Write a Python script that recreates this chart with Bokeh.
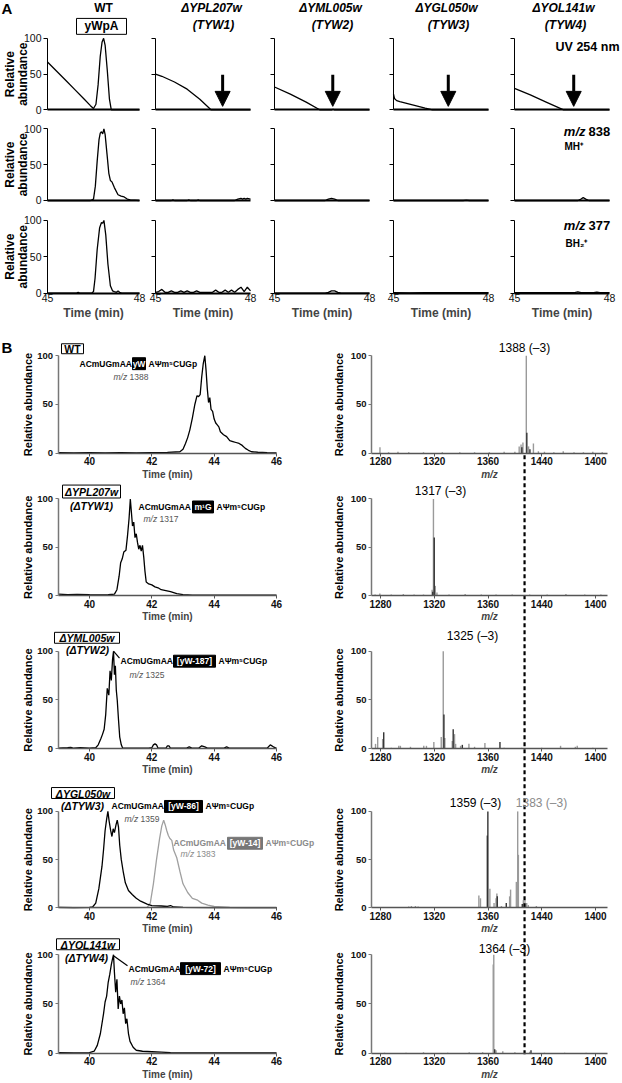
import math
from bokeh.plotting import figure
from bokeh.models import Range1d, LinearAxis, FixedTicker, Arrow, NormalHead
from bokeh.core.properties import value
from bokeh.embed import file_html
from bokeh.resources import INLINE

# ======================= DATA =======================
# ---- Panel A : elution profiles, time 45-48 min, relative abundance ----
a_titles = ["WT", "\u0394YPL207w", "\u0394YML005w", "\u0394YGL050w", "\u0394YOL141w"]
a_subtitles = ["yWpA", "(TYW1)", "(TYW2)", "(TYW3)", "(TYW4)"]
a_x_ticks = [45, 48]
a_y_ticks = [0, 50, 100]

# UV 254 nm
uv_wt_t = [45.0, 45.3, 45.6, 45.9, 46.2, 46.4, 46.5, 46.58, 46.65, 46.72, 46.78, 46.83, 46.88, 46.95, 47.02, 47.08, 47.5, 48.0]
uv_wt_y = [67, 54, 41, 28, 15, 6, 2, 8, 35, 75, 95, 100, 90, 55, 15, 0, 0, 0]
uv_tyw1_t = [45.0, 45.2, 45.6, 46.0, 46.4, 46.76, 48.0]
uv_tyw1_y = [50, 47, 39, 29, 15, 0, 0]
uv_tyw2_t = [45.0, 45.5, 46.0, 46.44, 46.8, 46.85, 46.9, 48.0]
uv_tyw2_y = [32, 22, 11, 0, 0, 1, 0, 0]
uv_tyw3_t = [45.0, 45.03, 45.1, 45.2, 45.6, 46.0, 46.23, 48.0]
uv_tyw3_y = [22, 16, 13, 11.5, 7, 2.5, 0, 0]
uv_tyw4_t = [45.0, 45.5, 46.0, 46.55, 48.0]
uv_tyw4_y = [30, 21, 11, 0, 0]
# arrows mark the expected elution position of yWpA (min)
arrow_t = [47.12, 46.84, 46.73, 46.87]

# m/z 838 (MH+)
mz838_wt_t = [45, 46.4, 46.5, 46.56, 46.62, 46.68, 46.72, 46.76, 46.8, 46.84, 46.88, 46.94, 47.0, 47.05, 47.1, 47.18, 47.3, 47.4, 47.5, 47.6, 47.7, 48]
mz838_wt_y = [0, 0, 2, 20, 55, 85, 94, 96, 93, 100, 92, 65, 38, 28, 26, 18, 8, 6, 5, 2, 1, 0]
mz838_tyw1_t = [45, 45.5, 45.55, 45.6, 46.0, 46.05, 46.1, 46.3, 46.35, 46.4, 47.5, 47.55, 47.6, 47.7, 47.75, 47.8, 47.85, 47.9, 48]
mz838_tyw1_y = [0, 0, 1, 0, 0, 1, 0, 0, 1, 0, 0, 1, 2, 3, 2, 3, 2, 3, 2]
mz838_tyw2_t = [45, 46.6, 46.7, 46.8, 46.9, 47.0, 48]
mz838_tyw2_y = [0, 0, 2, 3, 2, 0, 0]
mz838_tyw3_t = [45, 47.2, 47.3, 47.4, 48]
mz838_tyw3_y = [0, 0, 0.6, 0, 0]
mz838_tyw4_t = [45, 47.0, 47.1, 47.17, 47.25, 47.35, 48]
mz838_tyw4_y = [0, 0, 2, 4, 2, 0, 0]

# m/z 377 (BH2+)
mz377_wt_t = [45, 45.95, 46.0, 46.05, 46.45, 46.5, 46.55, 46.62, 46.7, 46.76, 46.8, 46.84, 46.9, 46.97, 47.05, 47.12, 47.18, 47.25, 47.3, 47.35, 47.42, 48]
mz377_wt_y = [0, 0, 1, 0, 0, 2, 20, 60, 90, 97, 96, 100, 80, 40, 10, 3, 2, 1, 3, 1, 0, 0]
mz377_tyw1_t = [45, 45.1, 45.2, 45.3, 45.4, 45.5, 45.6, 45.7, 45.8, 45.9, 46.0, 46.1, 46.2, 46.3, 46.4, 46.5, 46.6, 46.7, 46.8, 46.9, 47.0, 47.1, 47.2, 47.3, 47.4, 47.5, 47.6, 47.7, 47.8, 47.9, 48.0]
mz377_tyw1_y = [1, 2, 5, 1, 1, 3, 1, 1, 3, 1, 3, 1, 1, 3, 1, 1, 1, 1, 1, 4, 1, 1, 4, 1, 4, 1, 5, 8, 2, 8, 3]
mz377_tyw2_t = [45, 46.6, 46.7, 46.8, 46.9, 47.0, 47.1, 48]
mz377_tyw2_y = [0, 0, 1, 3, 3, 1, 0, 0]
mz377_tyw3_t = [45, 45.5, 46, 46.5, 47, 47.5, 48]
mz377_tyw3_y = [0.5, 0.3, 0.6, 0.4, 0.6, 0.4, 0.5]
mz377_tyw4_t = [45, 46.5, 46.9, 47.0, 47.1, 47.5, 47.6, 47.7, 48]
mz377_tyw4_y = [0.5, 0.5, 0.5, 1.5, 0.5, 0.5, 1.2, 0.5, 0.5]

# ---- Panel B : chromatograms (time 39-46 min) ----
b_strains = ["WT", "\u0394YPL207w", "\u0394YML005w", "\u0394YGL050w", "\u0394YOL141w"]
b_sub = ["", "(\u0394TYW1)", "(\u0394TYW2)", "(\u0394TYW3)", "(\u0394TYW4)"]
b_mods = ["yW", "m\u00b9G", "[yW-187]", "[yW-86]", "[yW-72]"]
b_mz = ["1388", "1317", "1325", "1359", "1364"]
b_peak_text = ["1388 (\u20133)", "1317 (\u20133)", "1325 (\u20133)", "1359 (\u20133)", "1364 (\u20133)"]
gray_mod, gray_mz, gray_peak_text = "[yW-14]", "1383", "1383 (\u20133)"
b_t_ticks = [40, 42, 44, 46]
b_y_ticks = [0, 50, 100]

chr_wt_t = [39.0, 39.5, 40.0, 40.5, 41.0, 41.5, 42.0, 42.5, 42.9, 43.0, 43.08, 43.15, 43.22, 43.3, 43.38, 43.45, 43.5, 43.55, 43.6, 43.65, 43.7, 43.74, 43.78, 43.82, 43.86, 43.9, 43.95, 44.0, 44.05, 44.1, 44.15, 44.2, 44.3, 44.4, 44.5, 44.6, 44.7, 44.8, 44.9, 45.0, 45.1, 45.2, 45.4, 45.7, 46.0]
chr_wt_y = [0.5, 0.3, 0.5, 0.3, 0.5, 0.4, 0.6, 0.8, 1.5, 4, 10, 16, 24, 36, 50, 59, 58, 60, 78, 92, 100, 85, 66, 52, 57, 45, 43, 35, 31, 29, 27, 22, 19, 17, 13, 12, 11, 10, 8, 5, 3, 1.5, 1, 0.5, 0.3]
chr_tyw1_t = [39.0, 39.3, 39.6, 40.0, 40.3, 40.6, 40.8, 40.88, 40.95, 41.0, 41.05, 41.1, 41.17, 41.22, 41.27, 41.31, 41.34, 41.38, 41.42, 41.46, 41.5, 41.54, 41.58, 41.62, 41.66, 41.7, 41.74, 41.78, 41.82, 41.9, 42.0, 42.1, 42.2, 42.3, 42.45, 42.6, 42.8, 43.0, 43.3, 44.0, 45.0, 46.0]
chr_tyw1_y = [1.5, 1, 1.2, 0.8, 0.6, 0.8, 1.5, 6, 20, 34, 38, 45, 47, 62, 80, 100, 88, 72, 76, 60, 64, 55, 48, 52, 46, 52, 40, 25, 14, 12, 11, 9, 8, 6, 5, 4, 2, 1, 0.5, 0.3, 0.3, 0.3]
chr_tyw2_t = [39.0, 39.3, 39.4, 39.5, 39.7, 40.0, 40.2, 40.28, 40.36, 40.42, 40.47, 40.52, 40.57, 40.62, 40.66, 40.7, 40.74, 40.77, 40.8, 40.83, 40.86, 40.89, 40.93, 40.97, 41.02, 41.06, 41.1, 41.5, 41.9, 42.0, 42.05, 42.1, 42.15, 42.2, 42.45, 42.5, 42.55, 42.6, 43.1, 43.2, 43.3, 43.5, 43.6, 43.7, 43.8, 44.3, 44.4, 44.5, 45.0, 45.7, 45.8, 45.9, 46.0]
chr_tyw2_y = [0.5, 1, 1.5, 0.5, 1, 0.5, 1, 4, 10, 15, 20, 35, 62, 55, 80, 70, 92, 100, 76, 85, 60, 50, 30, 12, 4, 1, 0.5, 0.5, 0.5, 1, 4, 5, 4, 0.5, 0.5, 3, 3, 0.5, 0.5, 2, 0.5, 0.5, 3, 2, 0.5, 0.5, 2, 0.5, 0.5, 0.5, 4, 2, 0.5]
chr_tyw3_t = [39, 39.5, 40, 40.1, 40.2, 40.3, 40.4, 40.45, 40.5, 40.55, 40.59, 40.63, 40.68, 40.72, 40.76, 40.8, 40.85, 40.89, 40.93, 40.97, 41.02, 41.08, 41.15, 41.25, 41.37, 41.5, 41.64, 41.85, 42.0, 42.3, 42.5, 42.6, 42.7, 43.0, 44, 45, 46]
chr_tyw3_y = [0.5, 0.3, 0.5, 1, 5, 20, 43, 60, 80, 92, 100, 90, 80, 74, 82, 78, 86, 91, 84, 65, 50, 38, 26, 18, 14, 10, 7, 4, 2.5, 2, 1.5, 2.5, 1, 0.5, 0.3, 0.3, 0.3]
chr_tyw3g_t = [39, 41.5, 41.85, 41.95, 42.05, 42.15, 42.25, 42.32, 42.38, 42.43, 42.48, 42.53, 42.58, 42.64, 42.7, 42.8, 42.9, 43.0, 43.15, 43.3, 43.47, 43.6, 43.8, 44.0, 44.5, 45, 46]
chr_tyw3g_y = [0.3, 0.3, 0.5, 5, 25, 50, 72, 85, 91, 86, 80, 75, 72, 70, 60, 52, 38, 25, 16, 10, 8, 5, 3, 1.5, 0.5, 0.3, 0.3]
chr_tyw4_t = [39, 39.5, 40, 40.15, 40.25, 40.35, 40.45, 40.5, 40.55, 40.6, 40.65, 40.7, 40.74, 40.77, 40.8, 40.84, 40.88, 40.92, 40.96, 41.0, 41.04, 41.08, 41.12, 41.16, 41.2, 41.25, 41.3, 41.4, 41.5, 41.7, 42.0, 42.3, 42.6, 43, 44, 45, 46]
chr_tyw4_y = [0.5, 0.3, 0.5, 2, 8, 20, 40, 52, 58, 72, 80, 90, 96, 100, 82, 62, 75, 45, 58, 50, 54, 40, 46, 30, 35, 20, 12, 6, 3, 2, 1.5, 1, 0.5, 0.3, 0.3, 0.3, 0.3]

# ---- Panel B : mass spectra (m/z) ----
mz_ticks = [1280, 1320, 1360, 1400, 1440]
mz_tick_text = {1400: "1440", 1440: "1400"}   # tick labels as printed in the original
dash_mz = 1387.2

ms_wt_gray_mz = [1279.6, 1286, 1293, 1301, 1312, 1326, 1339, 1350, 1361, 1372, 1380, 1383.2, 1384.6, 1386.0, 1388.5, 1390.2, 1393.8, 1397.5, 1402, 1409, 1416, 1424, 1431, 1438, 1445]
ms_wt_gray_i = [6, 1, 1.5, 1, 1, 1, 1, 1, 1, 1.5, 1.5, 7, 9, 11, 100, 7, 10, 2, 1.5, 1, 2, 1, 1, 1.5, 1]
ms_wt_dark_mz = [1385.2, 1388.9, 1391.2]
ms_wt_dark_i = [6, 21, 4]
ms_tyw1_gray_mz = [1276, 1279.5, 1288, 1297, 1305, 1312, 1318.4, 1319.4, 1320.8, 1322, 1331, 1343, 1355, 1366, 1378, 1391, 1404, 1418, 1432, 1444]
ms_tyw1_gray_i = [1, 2, 1, 1.5, 1, 1, 6, 100, 10, 3, 1, 1.5, 1, 1, 1, 1, 1, 1.5, 1, 1]
ms_tyw1_dark_mz = [1318.9, 1320.0]
ms_tyw1_dark_i = [4, 60]
ms_tyw2_gray_mz = [1276.3, 1277.9, 1281.6, 1288, 1293.6, 1294.8, 1302.3, 1312.2, 1314.2, 1319.7, 1325.2, 1326.7, 1327.9, 1333.4, 1335.1, 1335.9, 1339.6, 1345.8, 1350, 1357.7, 1372, 1385, 1400, 1414, 1425, 1426.4, 1438]
ms_tyw2_gray_i = [5, 12, 10, 1, 3, 3, 2, 3, 3, 7, 12, 100, 11, 8, 15, 5, 3, 5, 2, 6, 1, 1, 1, 3, 2, 3, 1]
ms_tyw2_dark_mz = [1282.4, 1327.2, 1334.1, 1340.9, 1368.9]
ms_tyw2_dark_i = [17, 35, 20, 4, 7]
ms_tyw3_gray_mz = [1279, 1290, 1301, 1303, 1306, 1308, 1324, 1353.2, 1354.4, 1361.4, 1364.5, 1366.0, 1366.6, 1370, 1376.1, 1376.8, 1381.1, 1382.1, 1382.6, 1386.3, 1387.5, 1388.8, 1390, 1396, 1404, 1416, 1422]
ms_tyw3_gray_i = [0.5, 0.5, 1.5, 2, 2, 1.5, 1, 13, 10, 20, 5, 10, 15, 2, 12, 19, 27, 100, 55, 8, 8, 5, 3, 2, 1, 1, 1]
ms_tyw3_dark_mz = [1359.5, 1359.9, 1366.9, 1373.6, 1385.5]
ms_tyw3_dark_i = [75, 100, 12, 5, 4]
ms_tyw4_gray_mz = [1283, 1299, 1312, 1330, 1346, 1356, 1363.9, 1364.3, 1366, 1371, 1380, 1391, 1402, 1417, 1433]
ms_tyw4_gray_i = [0.5, 0.5, 1, 0.5, 1, 1, 90, 100, 3, 2, 1, 1.5, 0.5, 0.5, 0.5]
ms_tyw4_dark_mz = [1365.0, 1392]
ms_tyw4_dark_i = [4, 3]

# ======================= LAYOUT =======================
W, H = 620, 1082
FNAME = "Liberation Sans"
FONT = value(FNAME)
GRAY = "#9a9a9a"
DARK = "#333333"

def fx(x):  # reference pixel -> canvas pixel
    return x

def fy(y):
    return y * 0.995

A_X0 = [47, 155, 274, 393, 514]   # pixel of t = 45
A_X1 = [139, 250, 369, 488, 609]  # pixel of t = 48
A_BASE = [110, 201, 294]
A_TOP = [38, 129, 221]
B_BASE = [455, 598, 752, 912, 1058]
B_TOP = [357, 501, 654, 815, 959]

p = figure(width=W, height=H, x_range=Range1d(0, W), y_range=Range1d(H, 0),
           x_axis_type=None, y_axis_type=None, toolbar_location=None,
           output_backend="svg", min_border=0, outline_line_color=None)

xr, yr = {}, {}

def add_xr(name, a, b, ra, rb):
    pa, pb = fx(ra), fx(rb)
    k = (pb - pa) / (b - a)
    start = a - pa / k
    xr[name] = Range1d(start, start + W / k)

def add_yr(name, rbase, rtop):
    p0, p1 = fy(rbase), fy(rtop)
    k = (p0 - p1) / 100.0
    start = -(H - p0) / k
    yr[name] = Range1d(start, start + H / k)

for c in range(5):
    add_xr(f"a{c}", 45, 48, A_X0[c], A_X1[c])
for r in range(3):
    add_yr(f"ar{r}", A_BASE[r], A_TOP[r])
add_xr("bt", 40, 46, 89, 276)
t_axis0 = 40 - (89 - 57.5) / ((276 - 89) / 6.0)
add_xr("bmz", 1280, 1440, 380, 595)
mz_axis0 = 1280 - (380 - 371) / ((595 - 380) / 160.0)
for r in range(5):
    add_yr(f"br{r}", B_BASE[r], B_TOP[r])
p.extra_x_ranges = xr
p.extra_y_ranges = yr


def txt(x, y, s, size=9, style="bold", color="black", align="left", baseline="middle", angle=0):
    p.text(x=[fx(x)], y=[fy(y)], text=[s], text_font=FONT, text_font_size=f"{size}px",
           text_font_style=style, text_color=color, text_align=align,
           text_baseline=baseline, angle=angle)

def box(x0, x1, y0, y1, fill=None, line="black", lw=1):
    p.quad(left=[fx(x0)], right=[fx(x1)], top=[fy(y0)], bottom=[fy(y1)],
           fill_color=fill, line_color=line, line_width=lw)

def lbl_props(size, style):
    return dict(major_label_text_font=FNAME, major_label_text_font_size=f"{size}px",
                major_label_text_font_style=style, major_label_text_color="#111111")

# ---------------- Panel A ----------------
a_series = [
    [(uv_wt_t, uv_wt_y), (uv_tyw1_t, uv_tyw1_y), (uv_tyw2_t, uv_tyw2_y), (uv_tyw3_t, uv_tyw3_y), (uv_tyw4_t, uv_tyw4_y)],
    [(mz838_wt_t, mz838_wt_y), (mz838_tyw1_t, mz838_tyw1_y), (mz838_tyw2_t, mz838_tyw2_y), (mz838_tyw3_t, mz838_tyw3_y), (mz838_tyw4_t, mz838_tyw4_y)],
    [(mz377_wt_t, mz377_wt_y), (mz377_tyw1_t, mz377_tyw1_y), (mz377_tyw2_t, mz377_tyw2_y), (mz377_tyw3_t, mz377_tyw3_y), (mz377_tyw4_t, mz377_tyw4_y)],
]

for r in range(3):
    for c in range(5):
        xn, yn = f"a{c}", f"ar{r}"
        xa = LinearAxis(x_range_name=xn, y_range_name=yn, fixed_location=0, bounds=(45, 48),
                        ticker=FixedTicker(ticks=a_x_ticks if r == 2 else []),
                        axis_line_color="black", axis_line_width=2,
                        major_tick_out=0, major_tick_in=0, minor_tick_out=0, minor_tick_in=0,
                        major_label_standoff=1, **lbl_props(10.5, "normal"))
        if r == 2:
            xa.axis_label = "Time (min)"
            xa.axis_label_text_font = FNAME
            xa.axis_label_text_font_size = "12px"
            xa.axis_label_text_font_style = "bold"
            xa.axis_label_standoff = 0
        p.add_layout(xa, "below")
        ya = LinearAxis(x_range_name=xn, y_range_name=yn, fixed_location=45, bounds=(0, 100),
                        ticker=FixedTicker(ticks=a_y_ticks), axis_line_color="black", axis_line_width=1,
                        major_tick_out=4, major_tick_in=0, minor_tick_out=0, minor_tick_in=0,
                        major_tick_line_color="black", major_label_standoff=2, **lbl_props(10.5, "normal"))
        if c > 0:
            ya.major_label_overrides = {0: "", 50: "", 100: ""}
        p.add_layout(ya, "left")
        t, y = a_series[r][c]
        p.line(t, y, x_range_name=xn, y_range_name=yn, line_color="black", line_width=1.3)
    ymid = (A_BASE[r] + A_TOP[r]) / 2.0
    txt(9, ymid, "Relative", 12, "bold", align="center", angle=math.pi / 2)
    txt(22, ymid, "abundance", 12, "bold", align="center", angle=math.pi / 2)

for i, t in enumerate(arrow_t):
    p.add_layout(Arrow(end=NormalHead(size=15, fill_color="black", line_color="black", line_width=1),
                       x_start=t, y_start=49, x_end=t, y_end=5, line_width=3, line_color="black",
                       x_range_name=f"a{i + 1}", y_range_name="ar0"))

# headers
a_center = [103, 211, 330, 446, 563]
txt(1, 8, "A", 15, "bold")
txt(a_center[0], 8, a_titles[0], 12, "bold", align="center")
box(76, 126, 18, 34)
txt(a_center[0] - 2, 26, a_subtitles[0], 12, "bold", align="center")
for c in range(1, 5):
    txt(a_center[c], 8, a_titles[c], 12, "bold italic", align="center")
    txt(a_center[c] + 2, 25, a_subtitles[c], 12, "bold italic", align="center")

txt(619, 47, "UV 254 nm", 12.5, "bold", align="right")
txt(585, 132, "m/z", 13, "bold italic", align="right")
txt(588, 132, "838", 13, "bold")
txt(564, 147, "MH\u207a", 10, "bold")
txt(585, 226, "m/z", 13, "bold italic", align="right")
txt(588, 226, "377", 13, "bold")
txt(565, 244, "BH\u2082\u207a", 10, "bold")

# ---------------- Panel B ----------------
txt(1, 349, "B", 15, "bold")
chroms = [[(chr_wt_t, chr_wt_y, "black")], [(chr_tyw1_t, chr_tyw1_y, "black")],
          [(chr_tyw2_t, chr_tyw2_y, "black")],
          [(chr_tyw3g_t, chr_tyw3g_y, "#a0a0a0"), (chr_tyw3_t, chr_tyw3_y, "black")],
          [(chr_tyw4_t, chr_tyw4_y, "black")]]
spectra = [(ms_wt_gray_mz, ms_wt_gray_i, ms_wt_dark_mz, ms_wt_dark_i),
           (ms_tyw1_gray_mz, ms_tyw1_gray_i, ms_tyw1_dark_mz, ms_tyw1_dark_i),
           (ms_tyw2_gray_mz, ms_tyw2_gray_i, ms_tyw2_dark_mz, ms_tyw2_dark_i),
           (ms_tyw3_gray_mz, ms_tyw3_gray_i, ms_tyw3_dark_mz, ms_tyw3_dark_i),
           (ms_tyw4_gray_mz, ms_tyw4_gray_i, ms_tyw4_dark_mz, ms_tyw4_dark_i)]

for r in range(5):
    yn = f"br{r}"
    xa = LinearAxis(x_range_name="bt", y_range_name=yn, fixed_location=0, bounds=(t_axis0, 46),
                    ticker=FixedTicker(ticks=b_t_ticks), axis_line_color="#555555", axis_line_width=1.3,
                    major_tick_out=3, major_tick_in=0, minor_tick_out=0, minor_tick_in=0,
                    major_tick_line_color="#555555", major_label_standoff=1, **lbl_props(10, "bold"),
                    axis_label="Time (min)", axis_label_text_font=FNAME, axis_label_text_font_size="10px",
                    axis_label_text_font_style="bold", axis_label_standoff=0)
    p.add_layout(xa, "below")
    ya = LinearAxis(x_range_name="bt", y_range_name=yn, fixed_location=t_axis0, bounds=(0, 100),
                    ticker=FixedTicker(ticks=b_y_ticks), axis_line_color="#777777", axis_line_width=1.5,
                    major_tick_out=3, major_tick_in=0, minor_tick_out=0, minor_tick_in=0,
                    major_tick_line_color="#777777", major_label_standoff=2, **lbl_props(9.5, "bold"))
    p.add_layout(ya, "left")
    for t, y, col in chroms[r]:
        p.line(t, y, x_range_name="bt", y_range_name=yn, line_color=col, line_width=1.3)
    xa2 = LinearAxis(x_range_name="bmz", y_range_name=yn, fixed_location=0, bounds=(mz_axis0, 1449),
                     ticker=FixedTicker(ticks=mz_ticks), axis_line_color="#555555", axis_line_width=1.3,
                     major_tick_out=3, major_tick_in=0, minor_tick_out=0, minor_tick_in=0,
                     major_tick_line_color="#555555", major_label_standoff=1, **lbl_props(10, "bold"),
                     major_label_overrides=mz_tick_text,
                     axis_label="m/z", axis_label_text_font=FNAME, axis_label_text_font_size="10px",
                     axis_label_text_font_style="bold italic", axis_label_standoff=0)
    p.add_layout(xa2, "below")
    ya2 = LinearAxis(x_range_name="bmz", y_range_name=yn, fixed_location=mz_axis0, bounds=(0, 100),
                     ticker=FixedTicker(ticks=b_y_ticks), axis_line_color="#777777", axis_line_width=1.5,
                     major_tick_out=3, major_tick_in=0, minor_tick_out=0, minor_tick_in=0,
                     major_tick_line_color="#777777", major_label_standoff=2, **lbl_props(9.5, "bold"))
    p.add_layout(ya2, "left")
    gmz, gi, dmz, di = spectra[r]
    p.segment(x0=gmz, y0=[0] * len(gmz), x1=gmz, y1=gi, x_range_name="bmz", y_range_name=yn,
              line_color=GRAY, line_width=1.4)
    p.segment(x0=dmz, y0=[0] * len(dmz), x1=dmz, y1=di, x_range_name="bmz", y_range_name=yn,
              line_color=DARK, line_width=1.4)
    ymid = (B_BASE[r] + B_TOP[r]) / 2.0
    txt(27, ymid, "Relative abundance", 11, "bold", align="center", angle=math.pi / 2)
    txt(338, ymid, "Relative abundance", 11, "bold", align="center", angle=math.pi / 2)

# dashed reference line
p.segment(x0=[dash_mz], y0=[fy(457)], x1=[dash_mz], y1=[fy(1062)], x_range_name="bmz",
          line_color="black", line_width=2.2, line_dash="4 3")

# strain boxes
strain_box = [(61, 83, 345, 355), (62, 120, 487, 500), (54, 119, 635, 646), (51, 114, 791, 802), (56, 119, 943, 954)]
sub_pos = [None, (91, 508), (87, 653), (82, 810), (86, 962)]
for r in range(5):
    x0, x1, y0, y1 = strain_box[r]
    box(x0, x1, y0, y1)
    style = "bold" if r == 0 else "bold italic"
    txt((x0 + x1) / 2.0, (y0 + y1) / 2.0 + 0.5, b_strains[r], 10.5, style, align="center")
    if sub_pos[r]:
        txt(sub_pos[r][0], sub_pos[r][1], b_sub[r], 10.5, "bold italic", align="center")

def seq_label(x, y, mod, bx0, bx1, mz, mzx, mzy, color="black", fill="black"):
    txt(x, y, "ACmUGmAA", 8.5, "bold", color)
    box(bx0, bx1, y - 6, y + 6, fill=fill, line=fill)
    txt((bx0 + bx1) / 2.0, y, mod, 8.5, "bold", "white", align="center")
    txt(bx1 + 3, y, "A\u03a8m\u2075CUGp", 8.5, "bold", color)
    mzcol = "#555555" if color == "black" else "#8a8a8a"
    txt(mzx, mzy, "m/z", 8.5, "italic", mzcol)
    txt(mzx + 16, mzy, mz, 8.5, "normal", mzcol)

seq_label(79, 365, b_mods[0], 132, 145, b_mz[0], 113, 378)
seq_label(138, 509, b_mods[1], 192, 213, b_mz[1], 143, 521)
seq_label(120, 664, b_mods[2], 173, 215, b_mz[2], 129, 678)
seq_label(111, 810, b_mods[3], 164, 202, b_mz[3], 124, 823)
seq_label(173, 847, gray_mod, 227, 262, gray_mz, 180, 858, color="#8a8a8a", fill="#777777")
seq_label(128, 973, b_mods[4], 180, 220, b_mz[4], 130, 986)
p.line([fx(113), fx(119)], [fy(654), fy(661)], line_color="black", line_width=1.2)
p.line([fx(113), fx(127)], [fy(960), fy(970)], line_color="black", line_width=1.2)

peak_lbl = [(524, 349), (440, 493), (472, 639), (475, 807), (504, 953)]
for r in range(5):
    txt(peak_lbl[r][0], peak_lbl[r][1], b_peak_text[r], 12, "normal", align="center")
txt(541, 807, gray_peak_text, 12, "normal", "#8a8a8a", align="center")

open("out.html", "w").write(file_html(p, INLINE))
